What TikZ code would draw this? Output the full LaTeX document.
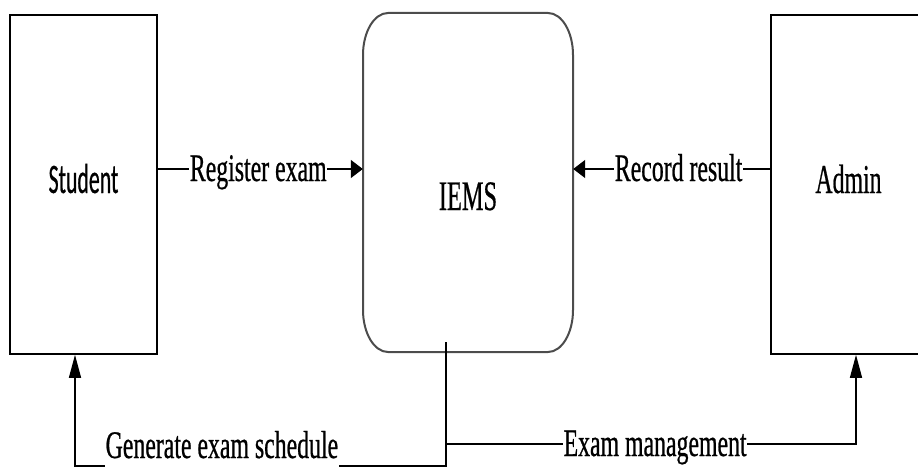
\documentclass[tikz,border=0pt]{standalone}
\usepackage{fontspec}
\usepackage{graphicx}
\usetikzlibrary{arrows.meta,calc}
\newfontfamily\lblfont[FakeStretch=0.61,FakeBold=0.6]{Liberation Serif}
\newfontfamily\boxserif[FakeStretch=0.58,FakeBold=0.5]{Liberation Serif}
\newfontfamily\boxsans[FakeStretch=0.52,FakeBold=0.5]{Carlito}
\tikzset{
  entity/.style={draw=black, line width=1.6pt, rectangle, inner sep=0pt, minimum height=339pt},
  conn/.style={draw=black, line width=1.4pt},
  harrow/.style={-{Triangle[length=12pt,width=18pt]}},
  varrow/.style={-{Triangle[length=23pt,width=12pt]}},
  flowlabel/.style={fill=white, inner sep=0.5pt, anchor=base, yshift=-12pt,
    font=\lblfont\fontsize{39}{44}\selectfont},
}
\begin{document}
\begin{tikzpicture}[x=1pt,y=-1pt]
\useasboundingbox (0,0) rectangle (918,476);
\clip (0,0) rectangle (918,476);
% entities
\node[entity, minimum width=147pt, text height=27pt, text depth=10pt,
      font=\boxsans\fontsize{42}{48}\selectfont] (student) at (83.5,184.5) {Student};
\node[entity, minimum width=155pt, text height=27pt, text depth=10pt,
      font=\boxserif\fontsize{41}{47}\selectfont] (admin) at (848.5,184.5) {Admin};
% process
\node[inner sep=0pt, minimum width=210pt, minimum height=339pt,
      text height=55pt, text depth=0pt,
      font=\boxserif\fontsize{42}{48}\selectfont] (iems) at (468,182.5) {IEMS};
\draw[draw=black!70, line width=2pt]
  (388,13) -- (548,13) .. controls (561.8,13) and (573,31.8) .. (573,55)
  -- (573,310) .. controls (573,333.2) and (561.8,352) .. (548,352)
  -- (388,352) .. controls (374.2,352) and (363,333.2) .. (363,310)
  -- (363,55) .. controls (363,31.8) and (374.2,13) .. (388,13) -- cycle;
% connector points
\coordinate (r1) at ([yshift=15.5pt]student.east);
\coordinate (a1) at ([yshift=15.5pt]admin.west);
\coordinate (itop) at (446,342);
\coordinate (ij) at (446,444);
\coordinate (ib) at (446,466);
\coordinate (sb) at (75,466);
\coordinate (ab) at (856,444);
% flows
\draw[conn, harrow] (r1) -- node[flowlabel, pos=0.49] {\strut Register exam} (r1 -| iems.west);
\draw[conn, harrow] (a1) -- node[flowlabel, pos=0.465] {\strut Record result} (a1 -| iems.east);
\draw[conn, varrow] (itop) -- (ib) -- node[flowlabel, pos=0.604, yshift=20pt] {\strut Generate exam schedule} (sb) -- (sb |- student.south);
\draw[conn, varrow] (ij) -- node[flowlabel, pos=0.51] {\strut Exam management} (ab) -- (ab |- admin.south);
\end{tikzpicture}
\end{document}
